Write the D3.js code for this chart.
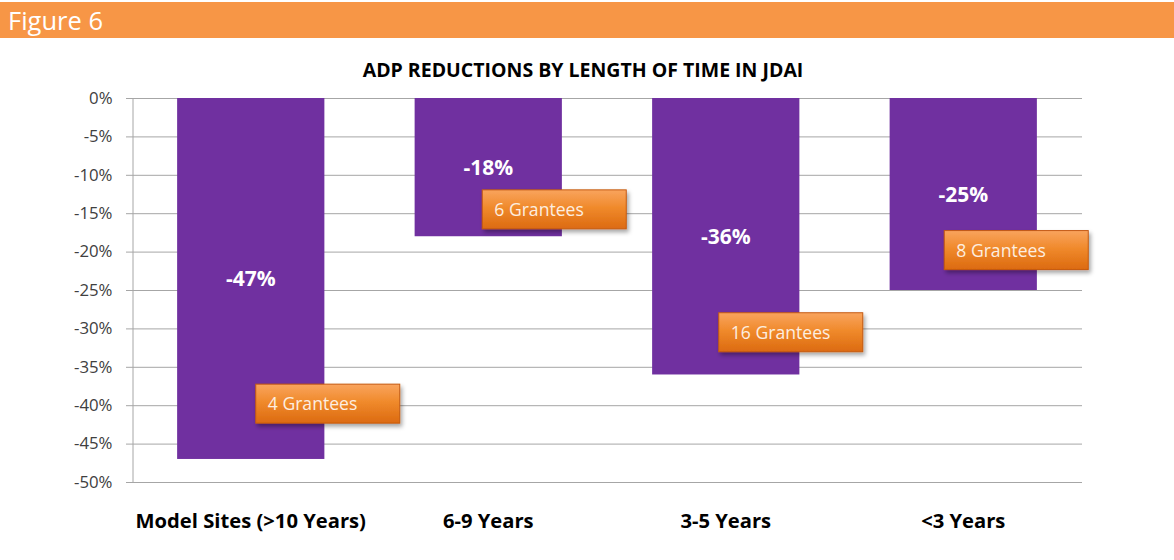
<!DOCTYPE html>
<html>
<head>
<meta charset="utf-8">
<script src="https://cdn.jsdelivr.net/npm/d3@7"></script>
<style>
  body { margin: 0; background: #fff; }
  svg { display: block; font-family: "Open Sans", "Noto Sans", sans-serif; }
</style>
</head>
<body>
<svg id="chart" width="1174" height="560"></svg>
<script>
// chart data
const categories = ['Model Sites (>10 Years)', '6-9 Years', '3-5 Years', '<3 Years'];
const reductions = [-47, -18, -36, -25];
const grantees = ['4 Grantees', '6 Grantees', '16 Grantees', '8 Grantees'];
const tickValues = [0, -5, -10, -15, -20, -25, -30, -35, -40, -45, -50];

// where the callout boxes sit (value of box centre, px offset of box left from bar centre)
const calloutY = [-39.8, -14.5, -30.5, -19.8];
const calloutDx = [5, -6, -7, -19];

const width = 1174;
const height = 560;
const margin = { top: 98, right: 92, bottom: 78, left: 132 };

function drawChart() {
    const svg = d3.select('#chart');

    const defs = svg.append('defs');
    const grad = defs.append('linearGradient')
        .attr('id', 'boxGrad')
        .attr('x1', 0).attr('y1', 0).attr('x2', 0).attr('y2', 1);
    grad.append('stop').attr('offset', '0%').attr('stop-color', '#f9a45e');
    grad.append('stop').attr('offset', '45%').attr('stop-color', '#f08a2c');
    grad.append('stop').attr('offset', '100%').attr('stop-color', '#dc6a10');
    const shadow = defs.append('filter').attr('id', 'shadow')
        .attr('x', '-20%').attr('y', '-30%').attr('width', '150%').attr('height', '180%');
    shadow.append('feDropShadow')
        .attr('dx', 2).attr('dy', 3).attr('stdDeviation', 2)
        .attr('flood-color', '#000').attr('flood-opacity', 0.35);

    // header band
    svg.append('rect')
        .attr('x', 0).attr('y', 2)
        .attr('width', width).attr('height', 36)
        .attr('fill', '#f79646');
    svg.append('text')
        .attr('x', 8).attr('y', 30)
        .attr('fill', '#fff')
        .style('font-size', '25.5px')
        .text('Figure 6');

    // title
    svg.append('text')
        .attr('x', 583).attr('y', 77)
        .attr('text-anchor', 'middle')
        .attr('fill', '#000')
        .style('font-size', '19.5px')
        .style('font-weight', 'bold')
        .text('ADP REDUCTIONS BY LENGTH OF TIME IN JDAI');

    // scales
    const x = d3.scaleBand()
        .domain(categories)
        .range([margin.left, width - margin.right])
        .paddingInner(0.38)
        .paddingOuter(0.19);

    const y = d3.scaleLinear()
        .domain([0, -50])
        .range([margin.top, height - margin.bottom]);

    // gridlines
    svg.append('g')
        .selectAll('line')
        .data(tickValues)
        .enter()
        .append('line')
        .attr('x1', margin.left - 6)
        .attr('x2', width - margin.right)
        .attr('y1', d => y(d) + 0.5)
        .attr('y2', d => y(d) + 0.5)
        .attr('stroke', '#a6a6a6')
        .attr('stroke-width', 1);

    // y axis
    const yAxis = svg.append('g')
        .attr('transform', `translate(${margin.left + 0.5},0)`)
        .call(d3.axisLeft(y).tickValues(tickValues).tickSize(0).tickPadding(20)
            .tickFormat(d => d + '%'));
    yAxis.select('.domain').attr('stroke', '#a6a6a6');
    yAxis.selectAll('text')
        .attr('fill', '#404040')
        .style('font-size', '16.8px')
        .style('font-family', '"Open Sans", "Noto Sans", sans-serif');

    // bars
    svg.selectAll('rect.bar')
        .data(reductions)
        .enter()
        .append('rect')
        .attr('class', 'bar')
        .attr('x', (d, i) => x(categories[i]))
        .attr('width', x.bandwidth())
        .attr('y', y(0))
        .attr('height', d => y(d) - y(0))
        .attr('fill', '#7030a0');

    // value labels
    svg.selectAll('text.val')
        .data(reductions)
        .enter()
        .append('text')
        .attr('class', 'val')
        .attr('x', (d, i) => x(categories[i]) + x.bandwidth() / 2)
        .attr('y', d => y(d / 2) + 8)
        .attr('text-anchor', 'middle')
        .attr('fill', '#fff')
        .style('font-size', '21px')
        .style('font-weight', 'bold')
        .text(d => d + '%');

    // callout boxes
    const boxW = 144, boxH = 39;
    const callouts = svg.selectAll('g.callout')
        .data(grantees)
        .enter()
        .append('g')
        .attr('class', 'callout')
        .attr('transform', (d, i) => {
            const cx = x(categories[i]) + x.bandwidth() / 2 + calloutDx[i];
            return `translate(${cx},${y(calloutY[i]) - boxH / 2})`;
        });
    callouts.append('rect')
        .attr('width', boxW).attr('height', boxH)
        .attr('fill', 'url(#boxGrad)')
        .attr('stroke', '#c55a11')
        .attr('stroke-width', 1)
        .attr('filter', 'url(#shadow)');
    callouts.append('text')
        .attr('x', 12).attr('y', boxH / 2 + 6.5)
        .attr('fill', '#fdeee0')
        .style('font-size', '17.6px')
        .text(d => d);

    // category labels
    svg.selectAll('text.cat')
        .data(categories)
        .enter()
        .append('text')
        .attr('class', 'cat')
        .attr('x', d => x(d) + x.bandwidth() / 2)
        .attr('y', 528)
        .attr('text-anchor', 'middle')
        .attr('fill', '#000')
        .style('font-size', '20.2px')
        .style('font-weight', 'bold')
        .text(d => d);
}

drawChart();
</script>
</body>
</html>
